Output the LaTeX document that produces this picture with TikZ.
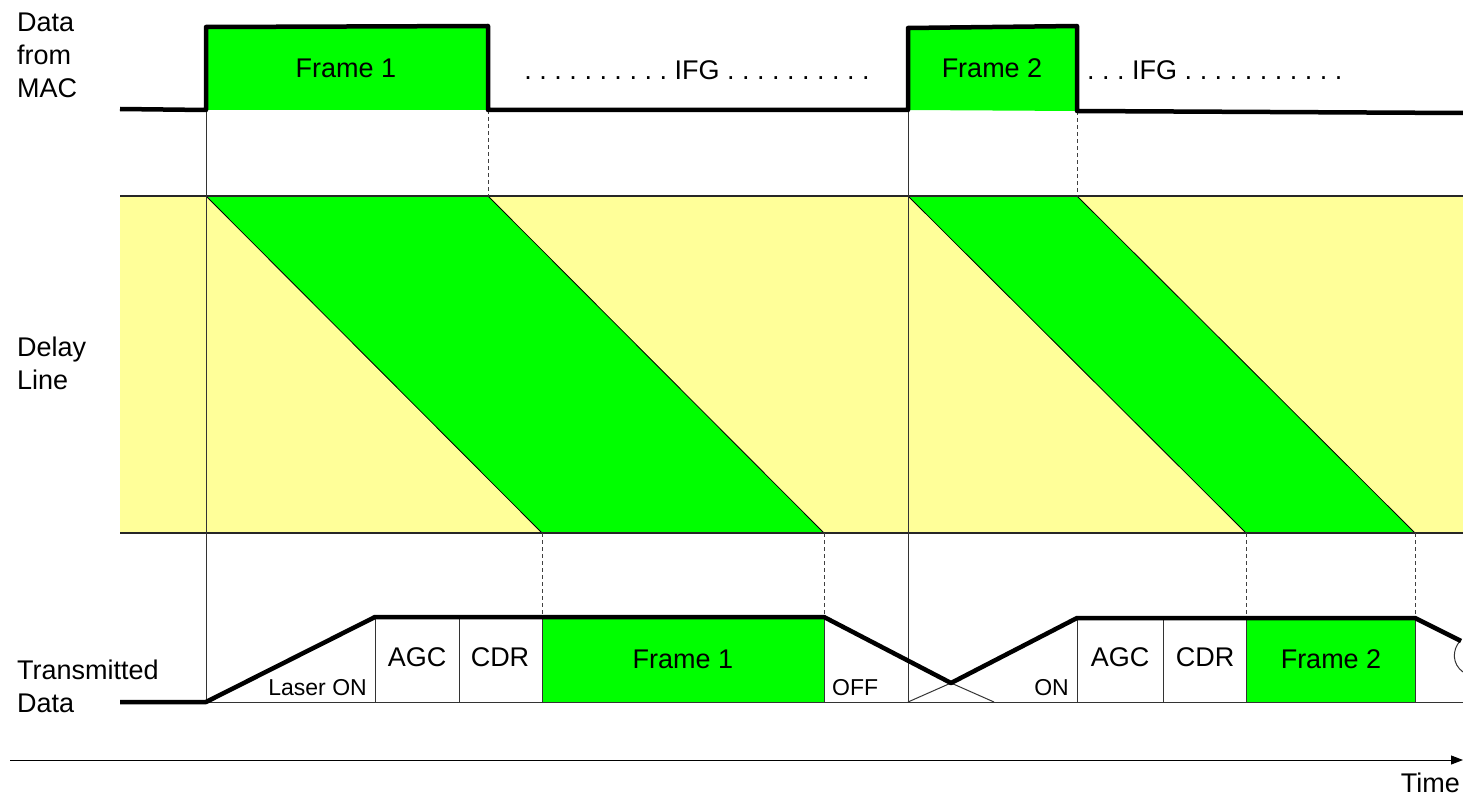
\documentclass[tikz,border=0pt]{standalone}
\usepackage{fontspec}
\setmainfont{Liberation Sans}
\usetikzlibrary{arrows.meta}
\definecolor{framegreen}{HTML}{00FF00}
\definecolor{bandyellow}{HTML}{FFFF99}
\tikzset{
  sig/.style={line width=4.5pt, line join=round},
  thinline/.style={line width=1pt, black!80},
  guide/.style={line width=1pt, black!75, dash pattern=on 4pt off 3pt},
  bandedge/.style={line width=2pt, black!85},
  lbl/.style={inner sep=0pt, font=\fontsize{27}{33}\selectfont, align=left},
  cell/.style={inner sep=0pt, font=\fontsize{27}{33}\selectfont},
  small/.style={inner sep=0pt, font=\fontsize{23}{28}\selectfont},
}
\frenchspacing
\begin{document}
\begin{tikzpicture}[x=1pt,y=-1pt]
\useasboundingbox (0,0) rectangle (1463,797);

% ---- row labels
\node[lbl, anchor=west] (lmac) at (17,55) {Data\\from\\MAC};
\node[lbl, anchor=west] (ldelay) at (17,363) {Delay\\Line};
\node[lbl, anchor=west] (ltx) at (17,686) {Transmitted\\Data};

% ---- delay line band
\fill[bandyellow] (120,196) rectangle (1463,533);
\draw[fill=framegreen, line width=0.8pt] (206,196) -- (488,196) -- (824,533) -- (542,533) -- cycle;
\draw[fill=framegreen, line width=0.8pt] (908,196) -- (1077,196) -- (1415,533) -- (1246,533) -- cycle;
\draw[bandedge] (120,196) -- (1463,196);
\draw[bandedge] (120,533) -- (1463,533);

% ---- frames from the MAC
\fill[framegreen] (206,27) -- (488,26) -- (488,110) -- (206,110) -- cycle;
\fill[framegreen] (908,28) -- (1077,26) -- (1077,111) -- (908,110) -- cycle;

% ---- transmitted data cells
\draw[thinline] (206,702) -- (1463,702);
\draw[thinline, fill=framegreen] (542,617) rectangle (824,702);
\draw[thinline, fill=framegreen] (1246,618) rectangle (1415,702);
\draw[thinline] (375,617) -- (375,702);
\draw[thinline] (459,617) -- (459,702);
\draw[thinline] (1077,618) -- (1077,702);
\draw[thinline] (1163,618) -- (1163,702);
\draw[thinline] (908,702) -- (951,683) -- (994,702);
\draw[thinline] (1460,641) .. controls (1452,650) and (1452,664) .. (1463,672);

% ---- timing guides
\draw[thinline] (206,110) -- (206,702);
\draw[thinline] (908,110) -- (908,702);
\draw[guide] (488,110) -- (488,196);
\draw[guide] (1077,111) -- (1077,196);
\draw[guide] (542,533) -- (542,617);
\draw[guide] (824,533) -- (824,617);
\draw[guide] (1246,533) -- (1246,618);
\draw[guide] (1415,533) -- (1415,618);

% ---- signals
\draw[sig] (120,109) -- (206,110) -- (206,27) -- (488,26) -- (488,110)
  -- (908,110) -- (908,28) -- (1077,26) -- (1077,111) -- (1463,113);
\draw[sig] (120,702) -- (206,702) -- (375,617) -- (824,617) -- (951,683)
  -- (1077,618) -- (1415,618) -- (1461,641);

% ---- texts on the MAC row
\node[cell] (f1) at (346,68) {Frame 1};
\node[cell] (f2) at (992,68) {Frame 2};
\node[cell, anchor=base] (ifg1) at (697,80) {. . . . . . . . . . IFG . . . . . . . . . .};
\node[cell, anchor=base west] (ifg2) at (1087,80) {. . . IFG . . . . . . . . . . .};

% ---- texts on the transmitted row
\node[small, anchor=base east] (laser) at (367,695) {Laser ON};
\node[cell] (agc1) at (417,657) {AGC};
\node[cell] (cdr1) at (500,657) {CDR};
\node[cell] (tf1) at (683,659) {Frame 1};
\node[small, anchor=base west] (off) at (832,695) {OFF};
\node[small, anchor=base east] (on) at (1069,695) {ON};
\node[cell] (agc2) at (1120,657) {AGC};
\node[cell] (cdr2) at (1205,657) {CDR};
\node[cell] (tf2) at (1331,659) {Frame 2};

% ---- time axis
\coordinate (t0) at (10,760);
\coordinate (t1) at (1463,760);
\draw[line width=1pt, -{Triangle[length=12pt,width=9pt]}] (t0) -- (t1);
\node[cell, anchor=base east] (time) at (1460,792) {Time};
\end{tikzpicture}
\end{document}
